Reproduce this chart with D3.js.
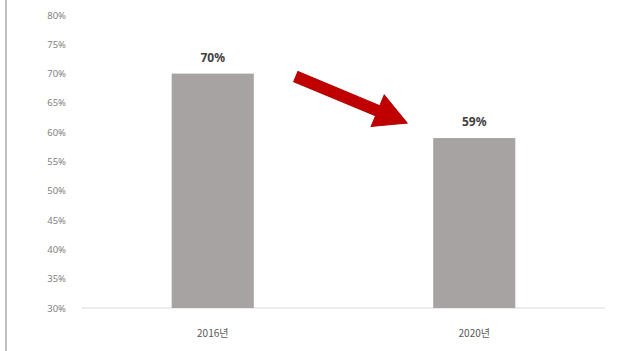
<!DOCTYPE html>
<html>
<head>
<meta charset="utf-8">
<script src="https://cdn.jsdelivr.net/npm/d3@7"></script>
<style>
  html, body { margin: 0; padding: 0; background: #fff; }
  svg { display: block; }
</style>
</head>
<body>
<div class="chart"></div>
<script>
const years = ['2016년', '2020년'];
const rates = [0.70, 0.59];
const yTicks = [0.30, 0.35, 0.40, 0.45, 0.50, 0.55, 0.60, 0.65, 0.70, 0.75, 0.80];

function drawChart() {
  let width = 631, height = 351;
  let svg = d3.select('.chart').append('svg')
    .attr('width', width)
    .attr('height', height);

  // left frame line
  svg.append('line')
    .attr('x1', 6).attr('x2', 6)
    .attr('y1', 0).attr('y2', height)
    .attr('stroke', '#bfbfbf')
    .attr('stroke-width', 2);

  let x = d3.scaleBand().domain(years).range([82, 605])
    .paddingInner(0.686).paddingOuter(0.343);
  let y = d3.scaleLinear().domain([0.30, 0.80]).range([308, 15]);

  let yAxis = d3.axisLeft(y)
    .tickValues(yTicks)
    .tickSize(0)
    .tickPadding(16)
    .tickFormat(d3.format('.0%'));
  let gy = svg.append('g').attr('transform', 'translate(82,0)').call(yAxis);
  gy.select('.domain').remove();
  gy.selectAll('text')
    .attr('fill', '#7f7f7f')
    .style('font-family', '"Noto Sans", sans-serif')
    .style('font-size', '9.5px');

  // baseline
  svg.append('line')
    .attr('x1', 82).attr('x2', 605)
    .attr('y1', y(0.30)).attr('y2', y(0.30))
    .attr('stroke', '#d9d9d9')
    .attr('stroke-width', 1.2);

  svg.selectAll('rect.bar')
    .data(rates)
    .join('rect')
    .attr('class', 'bar')
    .attr('x', (d, i) => x(years[i]))
    .attr('y', d => y(d))
    .attr('width', x.bandwidth())
    .attr('height', d => y(0.30) - y(d))
    .attr('fill', '#a7a3a3');

  svg.selectAll('text.val')
    .data(rates)
    .join('text')
    .attr('class', 'val')
    .attr('x', (d, i) => x(years[i]) + x.bandwidth() / 2)
    .attr('y', d => y(d) - 12)
    .attr('text-anchor', 'middle')
    .attr('fill', '#404040')
    .style('font-family', '"Noto Sans", sans-serif')
    .style('font-weight', 'bold')
    .style('font-size', '12px')
    .text(d => d3.format('.0%')(d));

  svg.selectAll('text.cat')
    .data(years)
    .join('text')
    .attr('class', 'cat')
    .attr('x', d => x(d) + x.bandwidth() / 2)
    .attr('y', 337)
    .attr('text-anchor', 'middle')
    .attr('fill', '#595959')
    .style('font-family', '"Noto Sans CJK KR", sans-serif')
    .style('font-size', '10px')
    .text(d => d);

  // red arrow between the two bars
  let x0 = x(years[0]) + x.bandwidth() + 42, y0 = y(rates[0]) + 3;
  let x1 = x(years[1]) - 26, y1 = y(rates[1]) - 15;
  let len = Math.hypot(x1 - x0, y1 - y0);
  let ang = Math.atan2(y1 - y0, x1 - x0) * 180 / Math.PI;
  let shaft = 11, headW = 34, headL = 32;
  let pts = [
    [0, -shaft / 2], [len - headL, -shaft / 2], [len - headL, -headW / 2],
    [len, 0],
    [len - headL, headW / 2], [len - headL, shaft / 2], [0, shaft / 2]
  ];
  svg.append('polygon')
    .attr('transform', `translate(${x0},${y0}) rotate(${ang})`)
    .attr('points', pts.map(p => p.join(',')).join(' '))
    .attr('fill', '#c00000')
    .attr('stroke', '#b00000')
    .attr('stroke-width', 1);
}

window.onload = drawChart;
</script>
</body>
</html>
